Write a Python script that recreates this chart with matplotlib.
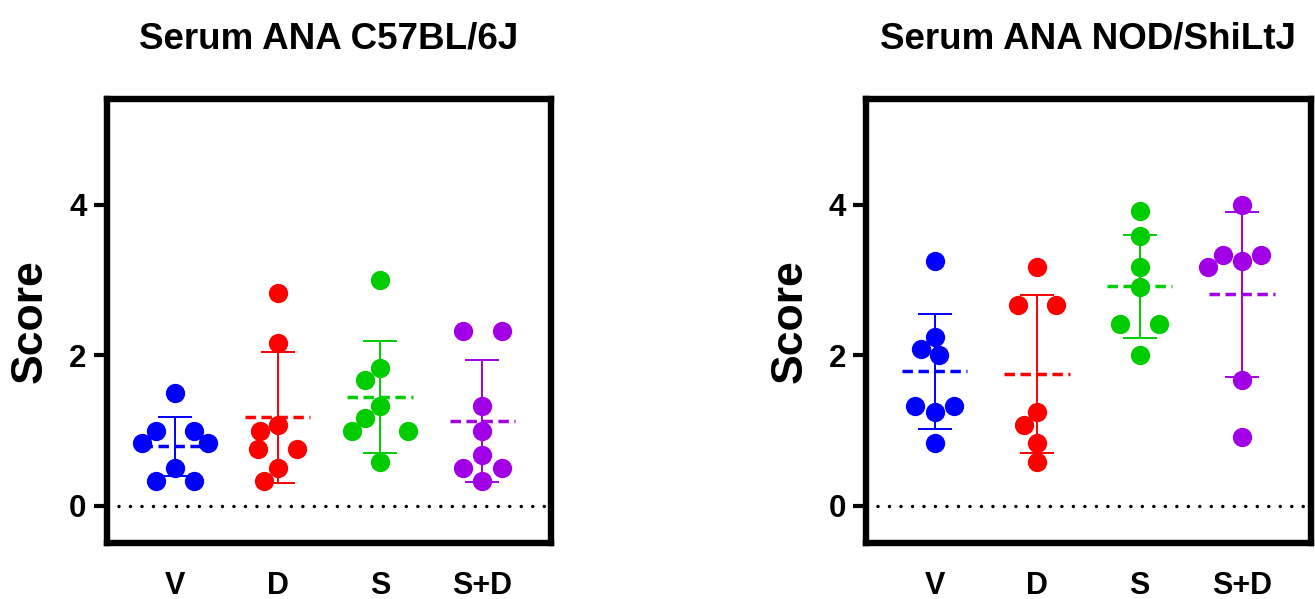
import numpy as np
import matplotlib.pyplot as plt

plt.rcParams['font.family'] = ['Liberation Sans', 'DejaVu Sans']
plt.rcParams['font.weight'] = 'bold'

# groups on the x axis
groups = ['V', 'D', 'S', 'S+D']
colors = ['#0000FF', '#FF0000', '#00CC00', '#A100E6']

# ANA scores
b6_v = [1.50, 1.00, 1.00, 0.83, 0.83, 0.50, 0.33, 0.33]
b6_d = [2.83, 2.17, 1.08, 1.00, 0.75, 0.75, 0.50, 0.33]
b6_s = [3.00, 1.83, 1.67, 1.33, 1.17, 1.00, 1.00, 0.58]
b6_sd = [2.33, 2.33, 1.33, 1.00, 0.67, 0.50, 0.50, 0.33]

nod_v = [3.25, 2.25, 2.08, 2.00, 1.33, 1.33, 1.25, 0.83]
nod_d = [3.17, 2.67, 2.67, 1.25, 1.07, 0.83, 0.58]
nod_s = [3.92, 3.58, 3.17, 2.91, 2.42, 2.42, 2.00]
nod_sd = [4.00, 3.33, 3.33, 3.25, 3.17, 1.67, 0.92]

titles = ['Serum ANA C57BL/6J', 'Serum ANA NOD/ShiLtJ']
yticks = [0, 2, 4]

MS = 13.9  # marker size in points


def swarm(vals, ux, uy, dpx):
    # beeswarm in pixel space; tied values are spread symmetrically
    vals = np.asarray(vals, dtype=float)
    offs = np.zeros(len(vals))
    placed = []
    mind = dpx * 0.97

    def free(xs, y):
        return all(np.hypot(x - px, y - py) >= mind
                   for x in xs for px, py in placed)

    for v in sorted(set(vals), reverse=True):
        idx = np.where(vals == v)[0]
        y = v * uy
        k = len(idx)
        if k == 1:
            c = 0.0
            steps = np.arange(0.5, 80, 0.5)
            cands = [0.0] + [s * sgn for s in steps for sgn in (-1, 1)]
            for c in cands:
                if free([c], y):
                    break
            xs = [c]
        else:
            c = dpx
            while True:
                xs = list((np.arange(k) - (k - 1) / 2) * 2 * c)
                if free(xs, y):
                    break
                c += 0.5
        for j, x in zip(idx, xs):
            placed.append((x, y))
            offs[j] = x / ux
    return offs


def panel(ax, data, title):
    ax.set_xlim(-0.67, 3.67)
    ax.set_ylim(-0.5, 5.4)
    fig = ax.figure
    p0 = ax.transData.transform((0, 0))
    p1 = ax.transData.transform((1, 1))
    ux, uy = p1[0] - p0[0], p1[1] - p0[1]
    dpx = MS * fig.dpi / 72

    ax.axhline(0, color='black', lw=2.5, linestyle=(0, (0.01, 3.3)),
               dash_capstyle='round', zorder=1)

    for i, (vals, col) in enumerate(zip(data, colors)):
        vals = np.asarray(vals)
        m = vals.mean()
        sd = vals.std(ddof=1)
        ax.errorbar(i, m, yerr=sd, color=col, lw=1.4, capsize=11.9,
                    capthick=1.4, zorder=2)
        ax.hlines(m, i - 0.32, i + 0.32, color=col, lw=2.5,
                  linestyles=(0, (3.0, 1.6)), zorder=3)
        xs = i + swarm(vals, ux, uy, dpx)
        ax.plot(xs, vals, 'o', color=col, ms=MS, mec='none', zorder=4)

    ax.set_xticks(range(len(groups)))
    ax.set_xticklabels(groups)
    ax.set_yticks(yticks)
    ax.tick_params(axis='x', length=0, pad=20, labelsize=22)
    ax.tick_params(axis='y', length=9.5, width=3, pad=5, labelsize=22.5)
    for sp in ax.spines.values():
        sp.set_linewidth(4.6)
    ax.set_ylabel('Score', fontsize=32, fontweight='bold', labelpad=13)
    ax.set_title(title, fontsize=26.5, fontweight='bold', pad=37)


fig = plt.figure(figsize=(13.15, 5.99), dpi=100)
ax1 = fig.add_axes([0.081, 0.0927, 0.338, 0.7412])
ax2 = fig.add_axes([0.6586, 0.0927, 0.338, 0.7412])

panel(ax1, [b6_v, b6_d, b6_s, b6_sd], titles[0])
panel(ax2, [nod_v, nod_d, nod_s, nod_sd], titles[1])

fig.savefig('out.png', dpi=100)
